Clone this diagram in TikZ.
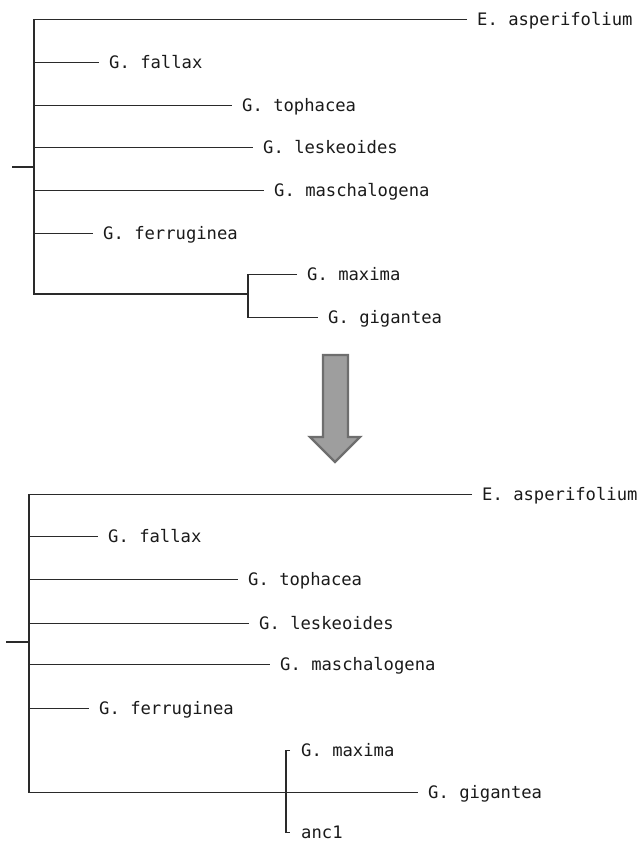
\documentclass[tikz,border=0pt]{standalone}
\usepackage{fontspec}
\newfontfamily\treefont{DejaVu Sans Mono}
\definecolor{linec}{HTML}{2A2A2A}
\definecolor{textc}{HTML}{1A1A1A}
\definecolor{arrowfill}{HTML}{9E9E9E}
\definecolor{arrowline}{HTML}{6E6E6E}
\tikzset{
  leaf/.style={anchor=west, inner xsep=10pt, inner ysep=0pt, text height=12.4pt, text depth=0pt,
    yshift=-1.3pt, font=\treefont\fontsize{17.2}{20}\selectfont, text=textc},
  branch/.style={draw=linec, line width=1.2pt},
  bigarrow/.style={fill=arrowfill, draw=arrowline, line width=2.4pt, line join=miter}
}
\begin{document}
\begin{tikzpicture}[x=1pt,y=-1pt]
\useasboundingbox (0,0) rectangle (643,841);

% ---------- top tree ----------
\coordinate (stubT) at (12,167);
\coordinate (rootT) at (34,167);
\coordinate (cladeT) at (248,294);
\node[leaf] (aspT) at (467,18) {E. asperifolium};
\node[leaf] (falT) at (99,61) {G. fallax};
\node[leaf] (topT) at (232,104) {G. tophacea};
\node[leaf] (lesT) at (253,146) {G. leskeoides};
\node[leaf] (masT) at (264,189) {G. maschalogena};
\node[leaf] (ferT) at (93,232) {G. ferruginea};
\node[leaf] (maxT) at (297,273) {G. maxima};
\node[leaf] (gigT) at (318,316) {G. gigantea};

\draw[branch] (stubT) -- (rootT);
\draw[branch] (aspT.west) -| (rootT) |- (cladeT);
\foreach \n in {falT,topT,lesT,masT,ferT}
  \draw[branch] (rootT |- \n.west) -- (\n.west);
\draw[branch] (maxT.west) -| (cladeT) |- (gigT.west);

% ---------- arrow ----------
\draw[bigarrow] (323,355) -- (348,355) -- (348,437) -- (360,437) -- (335,462)
  -- (310,437) -- (323,437) -- cycle;

% ---------- bottom tree ----------
\coordinate (stubB) at (6,642);
\coordinate (rootB) at (29,642);
\coordinate (ancB) at (286,790);
\node[leaf] (aspB) at (472,493) {E. asperifolium};
\node[leaf] (falB) at (98,535) {G. fallax};
\node[leaf] (topB) at (238,578) {G. tophacea};
\node[leaf] (lesB) at (249,622) {G. leskeoides};
\node[leaf] (masB) at (270,663) {G. maschalogena};
\node[leaf] (ferB) at (89,707) {G. ferruginea};
\node[leaf] (gigB) at (418,791) {G. gigantea};
\node[leaf, inner xsep=11pt] (maxB) at (290,749) {G. maxima};
\node[leaf, inner xsep=11pt] (ancl) at (290,831) {anc1};

\draw[branch] (stubB) -- (rootB);
\draw[branch] (aspB.west) -| (rootB) |- (gigB.west);
\foreach \n in {falB,topB,lesB,masB,ferB}
  \draw[branch] (rootB |- \n.west) -- (\n.west);
\draw[branch] (maxB.west) -| (ancB) |- (ancl.west);
\end{tikzpicture}
\end{document}
